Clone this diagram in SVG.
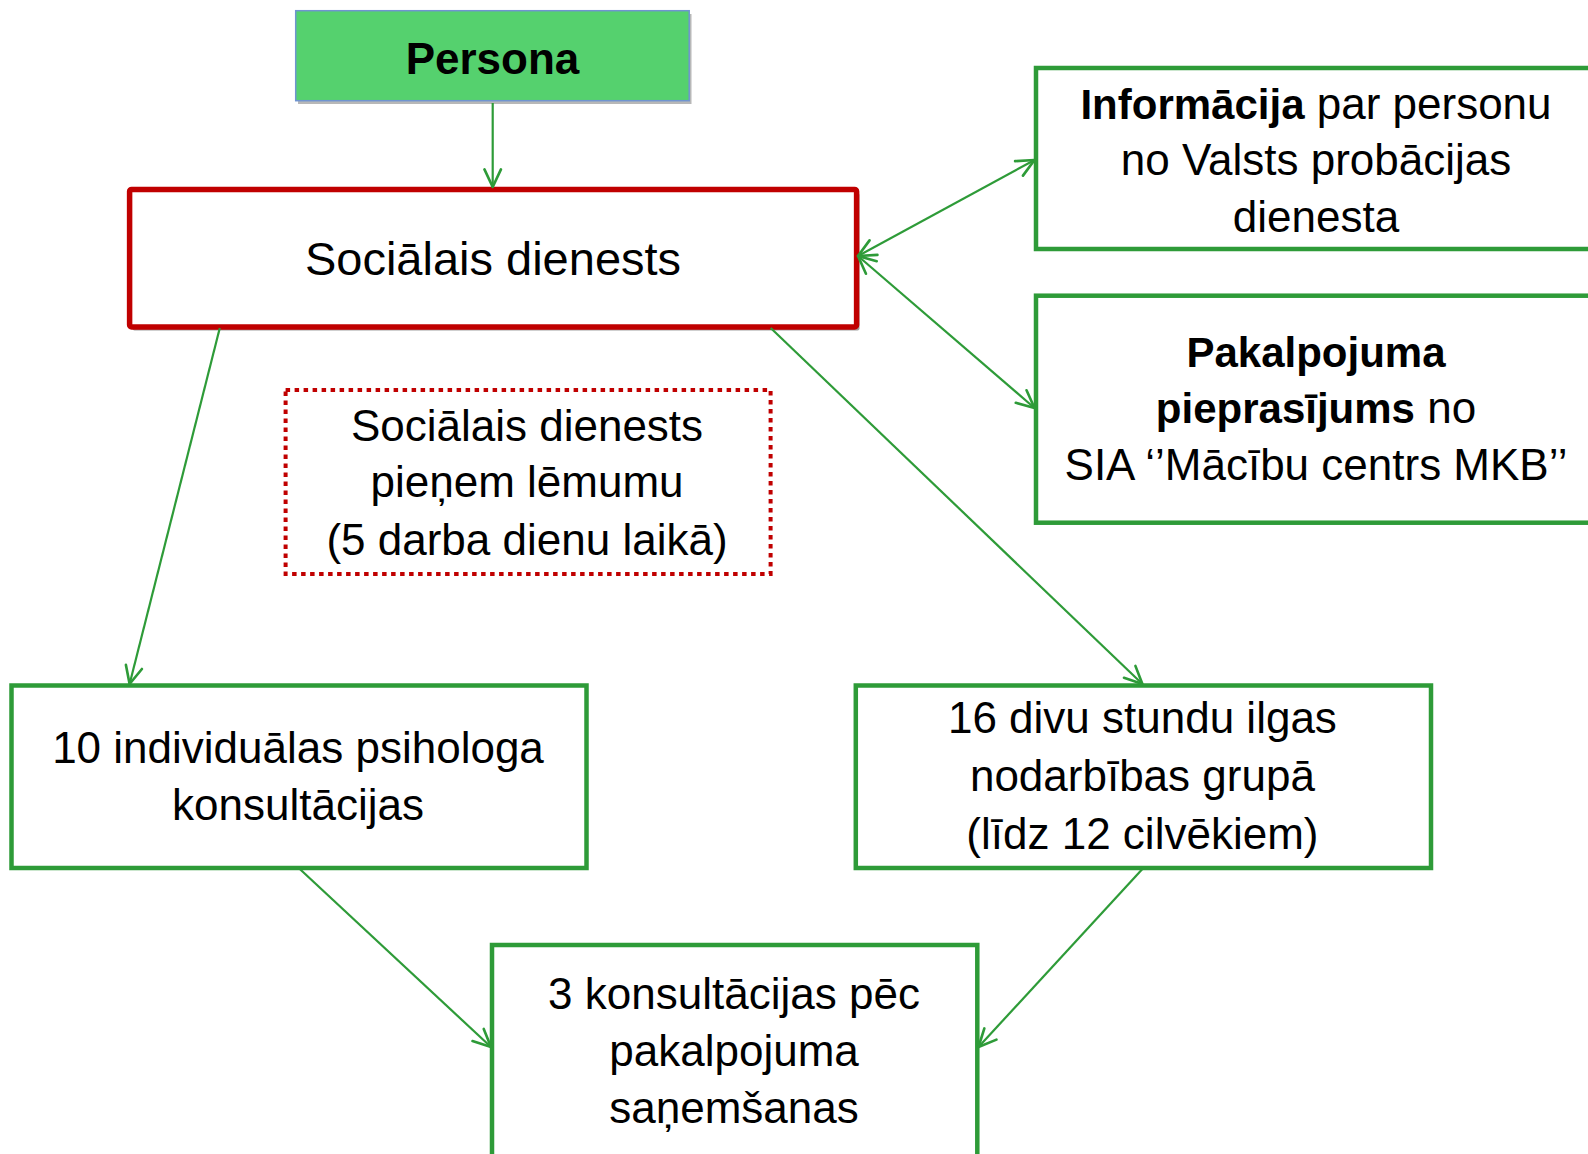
<svg xmlns="http://www.w3.org/2000/svg" width="1588" height="1154" viewBox="0 0 1588 1154">
  <style>
    .t { font-family: "Liberation Sans", Arial, sans-serif; font-size: 44px; fill: #000; text-anchor: middle; }
    .b { font-weight: bold; }
    .bs { font-weight: bold; font-size: 42px; }
    .gbox { fill: #fff; stroke: #2E9B38; stroke-width: 4.5; }
    .conn { stroke: #2E9B38; stroke-width: 2.2; fill: none; }
  </style>
  <defs>
    <marker id="arr" markerUnits="userSpaceOnUse" markerWidth="22" markerHeight="22" viewBox="0 0 20 20" refX="18" refY="10" orient="auto-start-reverse">
      <path d="M2,2.5 L18,10 L2,17.5" fill="none" stroke="#2E9B38" stroke-width="2.4" stroke-linecap="round" stroke-linejoin="round"/>
    </marker>
  </defs>
  <rect width="1588" height="1154" fill="#fff"/>

  <g id="persona">
    <rect x="298" y="14" width="393.5" height="90" fill="#9a9a9a" opacity="0.7"/>
    <rect x="295.7" y="10.7" width="393.5" height="90" fill="#55D16E" stroke="#7094D0" stroke-width="1.5"/>
    <text class="t b" x="492.5" y="74">Persona</text>
  </g>

  <g id="socialais-dienests">
    <rect x="132.5" y="193" width="727" height="137.6" rx="2" fill="#a0a0a0"/>
    <rect x="129.6" y="189.4" width="727" height="137.6" rx="2" fill="#fff" stroke="#C00000" stroke-width="5.5"/>
    <text class="t" x="493" y="275" style="font-size:47px">Sociālais dienests</text>
  </g>

  <g id="informacija">
    <rect class="gbox" x="1036" y="68" width="570" height="181"/>
    <text class="t" x="1316" y="118.5"><tspan class="bs">Informācija</tspan> par personu</text>
    <text class="t" x="1316" y="175">no Valsts probācijas</text>
    <text class="t" x="1316" y="232">dienesta</text>
  </g>

  <g id="pakalpojuma">
    <rect class="gbox" x="1036" y="295.7" width="570" height="227"/>
    <text class="t bs" x="1316" y="366.6">Pakalpojuma</text>
    <text class="t" x="1316" y="423"><tspan class="bs">pieprasījums</tspan> no</text>
    <text class="t" x="1316" y="480">SIA ‘’Mācību centrs MKB’’</text>
  </g>

  <g id="lemums">
    <rect x="285.6" y="390" width="485" height="184" fill="#fff" stroke="#C00000" stroke-width="4" stroke-dasharray="4.5 4.5"/>
    <text class="t" x="527" y="440.5">Sociālais dienests</text>
    <text class="t" x="527" y="497">pieņem lēmumu</text>
    <text class="t" x="527" y="555">(5 darba dienu laikā)</text>
  </g>

  <g id="psihologs">
    <rect class="gbox" x="11.5" y="685.5" width="575" height="182.5"/>
    <text class="t" x="298" y="762.6">10 individuālas psihologa</text>
    <text class="t" x="298" y="820">konsultācijas</text>
  </g>

  <g id="grupa">
    <rect class="gbox" x="855.8" y="685.5" width="575.2" height="182.5"/>
    <text class="t" x="1142.4" y="733">16 divu stundu ilgas</text>
    <text class="t" x="1142.4" y="791">nodarbības grupā</text>
    <text class="t" x="1142.4" y="848.7">(līdz 12 cilvēkiem)</text>
  </g>

  <g id="konsultacijas">
    <rect class="gbox" x="492" y="945" width="485.3" height="220"/>
    <text class="t" x="734" y="1008.7">3 konsultācijas pēc</text>
    <text class="t" x="734" y="1065.5">pakalpojuma</text>
    <text class="t" x="734" y="1123">saņemšanas</text>
  </g>

  <g id="connectors">
    <path class="conn" d="M492.7,103 L492.7,187" marker-end="url(#arr)"/>
    <path class="conn" d="M858,256 L1034.5,160" marker-start="url(#arr)" marker-end="url(#arr)"/>
    <path class="conn" d="M858,256 L1034.5,408" marker-start="url(#arr)" marker-end="url(#arr)"/>
    <path class="conn" d="M219.8,328 L129.6,684" marker-end="url(#arr)"/>
    <path class="conn" d="M770.7,328 L1142.4,684" marker-end="url(#arr)"/>
    <path class="conn" d="M299.8,869 L491,1047" marker-end="url(#arr)"/>
    <path class="conn" d="M1142.4,869 L978.5,1047" marker-end="url(#arr)"/>
  </g>
</svg>
